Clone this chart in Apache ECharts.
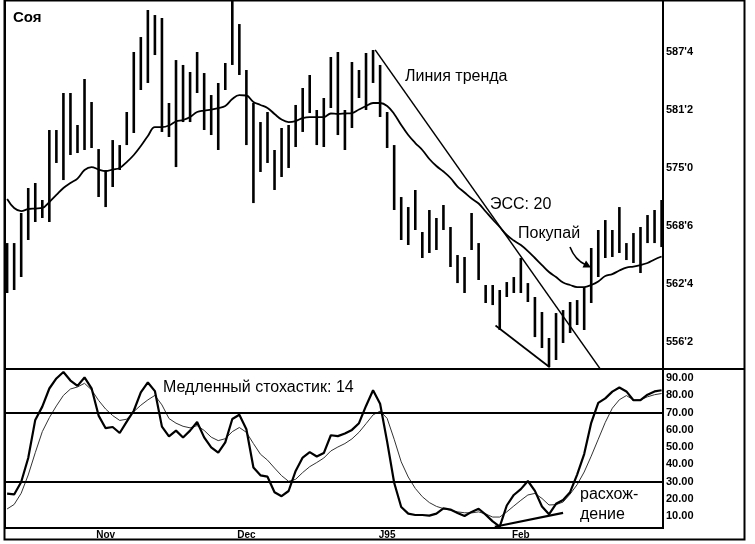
<!DOCTYPE html>
<html>
<head>
<meta charset="utf-8">
<script src="https://cdn.jsdelivr.net/npm/echarts@6/dist/echarts.min.js"></script>
<style>html,body{margin:0;padding:0;background:#fff}#c{width:755px;height:544px}</style>
</head>
<body>
<div id="c"></div>
<script>
// ---- data ----
const highs = [566.88,566.88,570.12,572.81,573.35,571.52,579.06,579.06,583.05,583.05,
579.60,584.56,582.08,577.01,574.75,577.98,577.44,581.00,587.47,589.08,
591.99,591.45,591.13,581.97,586.60,586.07,585.31,587.47,585.20,582.83,
584.13,586.28,593.50,590.48,585.53,581.97,579.92,581.00,576.91,579.28,
579.60,581.76,583.59,584.99,581.22,582.51,586.93,587.47,581.22,586.39,
585.53,587.36,587.68,586.07,581.00,577.44,571.84,570.76,572.60,568.07,
570.44,569.58,570.98,568.61,565.59,565.38,570.12,566.88,562.36,562.36,
561.82,562.68,563.22,565.27,562.57,561.07,559.45,556.65,559.34,559.66,
560.53,560.74,562.14,566.35,568.29,569.36,568.29,570.76,566.88,567.96,
568.61,569.90,570.44,571.52];
const lows = [561.50,561.82,563.22,567.21,569.15,569.58,569.15,575.51,573.67,576.37,
576.58,576.91,577.12,571.84,570.76,572.92,574.75,577.44,578.74,583.37,
584.13,587.14,578.85,578.31,575.07,579.92,579.92,583.05,579.06,578.52,
576.91,583.37,586.07,584.99,577.44,571.19,574.54,575.51,572.60,574.00,
574.97,577.23,578.85,580.89,577.44,577.23,581.43,578.52,576.91,579.28,
582.51,581.22,584.13,580.46,577.12,570.44,567.21,566.67,568.29,565.27,
565.81,566.13,568.29,564.30,562.57,561.50,566.13,562.90,560.42,560.20,
557.51,561.07,561.50,561.50,560.53,556.75,555.57,553.52,554.28,556.11,
557.19,558.05,557.51,560.42,563.22,565.27,565.38,565.81,565.05,564.73,
563.65,566.88,566.88,566.45];
const ema20 = [571.63,570.66,570.33,570.55,570.60,570.66,571.30,572.06,572.81,573.35,
573.83,574.75,575.07,574.80,574.64,574.80,574.97,575.61,576.37,577.34,
578.41,579.38,579.38,579.55,579.98,580.14,580.46,581.00,581.16,581.27,
581.43,581.65,582.40,582.83,582.78,582.08,581.76,581.43,580.79,580.19,
579.92,580.03,580.35,580.46,580.46,580.46,580.84,580.79,580.84,580.89,
581.27,581.65,581.97,581.97,581.65,580.79,579.60,578.52,577.66,576.91,
575.94,575.18,574.59,573.89,572.97,572.33,571.68,571.14,570.28,569.42,
568.61,567.75,567.15,566.67,566.02,565.27,564.51,563.76,563.22,562.63,
562.36,562.14,562.14,562.36,562.74,563.33,563.54,563.92,564.24,564.35,
564.51,564.73,565.11,565.43];
const stochK = [23.1,22.6,29.8,43.7,65.8,73.5,84.0,89.8,93.6,88.6,
85.5,90.4,84.1,68.3,61.0,61.7,58.2,64.8,71.1,81.7,
87.5,82.5,61.9,56.3,59.6,55.6,59.6,64.6,55.7,49.9,
46.8,52.8,66.3,68.8,60.4,38.2,33.7,32.9,23.9,21.6,
24.6,36.2,44.0,47.1,44.6,46.6,56.9,56.4,57.9,60.0,
63.9,73.9,83.0,75.2,53.2,29.4,15.3,11.5,10.7,10.7,
10.3,11.5,14.5,13.9,11.9,10.1,12.5,14.3,10.9,7.0,
4.0,16.2,22.3,25.7,30.4,24.7,15.6,11.1,17.2,19.4,
23.9,34.1,46.0,64.1,75.7,78.3,82.2,84.6,82.3,77.2,
77.2,80.4,82.3,83.0];
const stochD = [14.2,16.8,23.3,33.9,46.8,59.0,67.1,73.9,80.0,83.7,
84.9,87.0,83.2,77.1,72.1,68.3,65.5,66.2,70.6,74.3,
77.4,80.0,74.5,66.6,63.9,62.1,61.2,62.5,59.7,55.8,
53.8,54.9,59.0,61.4,58.6,52.1,45.9,42.5,37.9,33.5,
30.2,31.4,35.3,38.7,41.1,43.7,47.8,50.1,52.1,54.8,
58.6,63.6,68.7,70.9,66.7,54.6,41.5,32.7,26.1,21.3,
17.9,15.7,14.4,13.4,12.5,12.0,11.9,12.5,11.3,9.5,
9.5,12.5,15.9,19.2,22.3,23.2,20.3,16.5,16.7,18.2,
22.8,28.3,35.6,44.8,54.6,64.4,72.6,77.5,79.9,77.4,
77.5,79.2,80.4,81.1];
const trendLine = [[52.3, 587.7], [84.3, 553.3]];
const lowLine = [[69.4, 558.0], [77.1, 553.5]];
const divergenceLine = [[69.3, 3.9], [79.0, 11.9]];
const monthLabels = ['Nov', 'Dec', 'J95', 'Feb'];
const monthIdx = [14, 34, 54, 73];
const priceTicks = [556.25, 562.5, 568.75, 575, 581.25, 587.5];
const stochTicks = [10, 20, 30, 40, 50, 60, 70, 80, 90];
const stochLevels = [70, 30];

// ---- chart ----
const FONT = '"Liberation Sans", Arial, sans-serif';
const chart = echarts.init(document.getElementById('c'));
function eighths(v) {
  const i = Math.floor(v + 1e-9);
  return i + "'" + Math.round((v - i) * 8);
}
const barData = highs.map((h, i) => [i, h, lows[i]]);
const option = {
  animation: false,
  backgroundColor: '#fff',
  grid: [
    {left: 5, top: 0, width: 658, height: 369, show: true, borderColor: '#000', borderWidth: 2},
    {left: 5, top: 369, width: 658, height: 159, show: true, borderColor: '#000', borderWidth: 2}
  ],
  xAxis: [
    {type: 'value', gridIndex: 0, min: -0.3, max: 93.2, show: false},
    {type: 'value', gridIndex: 1, min: -0.3, max: 93.2,
      axisLine: {show: false}, axisTick: {show: false}, splitLine: {show: false},
      axisLabel: {customValues: monthIdx, formatter: v => monthLabels[monthIdx.indexOf(v)],
        fontFamily: FONT, fontSize: 10, fontWeight: 'bold', color: '#000', margin: 2}}
  ],
  yAxis: [
    {type: 'value', gridIndex: 0, position: 'right', min: 553.31, max: 593.07,
      axisLine: {show: false}, axisTick: {show: false}, splitLine: {show: false},
      axisLabel: {customValues: priceTicks, formatter: eighths,
        fontFamily: FONT, fontSize: 11, fontWeight: 'bold', color: '#000', margin: 3}},
    {type: 'value', gridIndex: 1, position: 'right', min: 3.16, max: 95.3,
      axisLine: {show: false}, axisTick: {show: false}, splitLine: {show: false},
      axisLabel: {customValues: stochTicks, formatter: v => v.toFixed(2),
        fontFamily: FONT, fontSize: 11, fontWeight: 'bold', color: '#000', margin: 3}}
  ],
  series: [
    {type: 'custom', xAxisIndex: 0, yAxisIndex: 0, clip: true, data: barData,
      encode: {x: 0, y: [1, 2]},
      renderItem: (params, api) => {
        const a = api.coord([api.value(0), api.value(1)]);
        const b = api.coord([api.value(0), api.value(2)]);
        return {type: 'line', shape: {x1: a[0], y1: a[1], x2: b[0], y2: b[1]},
          style: {stroke: '#000', lineWidth: 2.6}};
      }},
    {type: 'line', xAxisIndex: 0, yAxisIndex: 0, data: ema20.map((v, i) => [i, v]),
      smooth: 0.4, showSymbol: false, lineStyle: {color: '#000', width: 1.8}},
    {type: 'line', xAxisIndex: 0, yAxisIndex: 0, data: trendLine, clip: true,
      showSymbol: false, lineStyle: {color: '#000', width: 1.5}},
    {type: 'line', xAxisIndex: 0, yAxisIndex: 0, data: lowLine, clip: true,
      showSymbol: false, lineStyle: {color: '#000', width: 1.7}},
    {type: 'line', xAxisIndex: 1, yAxisIndex: 1, data: stochD.map((v, i) => [i, v]),
      showSymbol: false, lineStyle: {color: '#333', width: 1}},
    {type: 'line', xAxisIndex: 1, yAxisIndex: 1, data: stochK.map((v, i) => [i, v]),
      showSymbol: false, lineStyle: {color: '#000', width: 2.2},
      markLine: {silent: true, symbol: 'none', label: {show: false},
        lineStyle: {color: '#000', width: 1.8, type: 'solid'},
        data: stochLevels.map(v => ({yAxis: v}))}},
    {type: 'line', xAxisIndex: 1, yAxisIndex: 1, data: divergenceLine,
      showSymbol: false, lineStyle: {color: '#000', width: 2.2}}
  ],
  graphic: [
    {type: 'rect', shape: {x: 4.5, y: 0.5, width: 740, height: 539}, style: {fill: 'none', stroke: '#000', lineWidth: 2}, z: 100},
    {type: 'line', shape: {x1: 663, y1: 369, x2: 744, y2: 369}, style: {stroke: '#000', lineWidth: 2}, z: 100},
    {type: 'text', x: 13, y: 18, style: {text: 'Соя', fontFamily: FONT, fontSize: 15, fontWeight: 'bold', fill: '#000', verticalAlign: 'middle'}, z: 100},
    {type: 'text', x: 405, y: 77, style: {text: 'Линия тренда', fontFamily: FONT, fontSize: 16, fill: '#000', verticalAlign: 'middle'}, z: 100},
    {type: 'text', x: 490, y: 204.5, style: {text: 'ЭСС: 20', fontFamily: FONT, fontSize: 16, fill: '#000', verticalAlign: 'middle'}, z: 100},
    {type: 'text', x: 518, y: 233.7, style: {text: 'Покупай', fontFamily: FONT, fontSize: 16, fill: '#000', verticalAlign: 'middle'}, z: 100},
    {type: 'text', x: 163, y: 387.7, style: {text: 'Медленный стохастик: 14', fontFamily: FONT, fontSize: 16, fill: '#000', verticalAlign: 'middle'}, z: 100},
    {type: 'text', x: 580, y: 494.4, style: {text: 'расхож-', fontFamily: FONT, fontSize: 16, fill: '#000', verticalAlign: 'middle'}, z: 100},
    {type: 'text', x: 580, y: 514.4, style: {text: 'дение', fontFamily: FONT, fontSize: 16, fill: '#000', verticalAlign: 'middle'}, z: 100},
    {type: 'bezierCurve', shape: {x1: 570, y1: 247, cpx1: 575, cpy1: 260, x2: 586, y2: 265}, style: {stroke: '#000', lineWidth: 1.6, fill: 'none'}, z: 100},
    {type: 'polygon', shape: {points: [[591, 267.5], [582.5, 267.5], [586, 260.5]]}, style: {fill: '#000'}, z: 100}
  ]
};
chart.setOption(option);
</script>
</body>
</html>
